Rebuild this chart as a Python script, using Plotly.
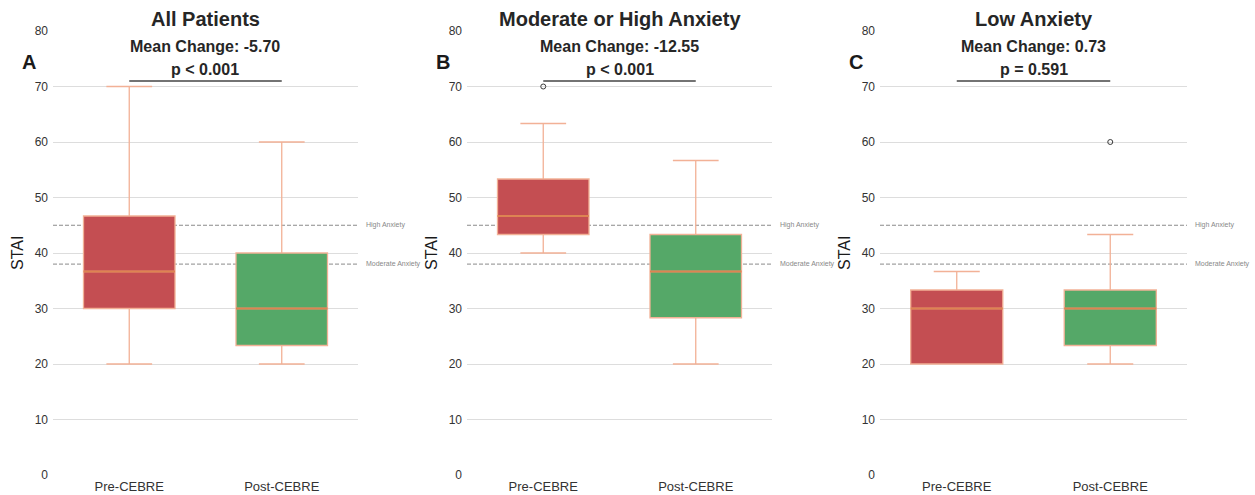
import plotly.graph_objects as go

categories = ["Pre-CEBRE", "Post-CEBRE"]
panel_titles = ["All Patients", "Moderate or High Anxiety", "Low Anxiety"]
panel_letters = ["A", "B", "C"]
mean_changes = ["-5.70", "-12.55", "0.73"]
p_texts = ["p < 0.001", "p < 0.001", "p = 0.591"]

# Box statistics per panel: [Pre, Post]
q1 = [[30.0, 23.33], [43.33, 28.33], [20.0, 23.33]]
median = [[36.67, 30.0], [46.67, 36.67], [30.0, 30.0]]
q3 = [[46.67, 40.0], [53.33, 43.33], [33.33, 33.33]]
lowerfence = [[20.0, 20.0], [40.0, 20.0], [20.0, 20.0]]
upperfence = [[70.0, 60.0], [63.33, 56.67], [36.67, 43.33]]
outliers = [[[], []], [[70.0], []], [[], [60.0]]]

high_anxiety = 45
moderate_anxiety = 38
sig_bar_y = 71
y_ticks = [0, 10, 20, 30, 40, 50, 60, 70, 80]

fill_colors = ["#C44E52", "#55A868"]
edge_color = "#F2B196"
median_color = "#DD8452"
FONT = "Liberation Sans, Arial, sans-serif"

W, H = 1255, 495
x_domains = [(53 / W, 358 / W), (467 / W, 772 / W), (880 / W, 1187 / W)]
y_domain = (1 - 475 / H, 1 - 31 / H)

fig = go.Figure()
annotations = []
shapes = []

for p in range(3):
    sfx = "" if p == 0 else str(p + 1)
    xa, ya = "x" + sfx, "y" + sfx
    for i, cat in enumerate(categories):
        fig.add_trace(go.Box(
            x=[i], q1=[q1[p][i]], median=[median[p][i]], q3=[q3[p][i]],
            lowerfence=[lowerfence[p][i]], upperfence=[upperfence[p][i]],
            width=0.6, whiskerwidth=0.5, boxpoints=False,
            fillcolor=fill_colors[i], line=dict(color=edge_color, width=1.3),
            xaxis=xa, yaxis=ya, showlegend=False, hoverinfo="skip", name=cat,
        ))
        fig.add_trace(go.Scatter(
            x=[i - 0.3, i + 0.3], y=[median[p][i], median[p][i]], mode="lines",
            line=dict(color=median_color, width=1.8), xaxis=xa, yaxis=ya,
            showlegend=False, hoverinfo="skip",
        ))
        if outliers[p][i]:
            fig.add_trace(go.Scatter(
                x=[i] * len(outliers[p][i]), y=outliers[p][i], mode="markers",
                marker=dict(symbol="circle-open", size=5, color="#3a3a3a", line=dict(width=1)),
                xaxis=xa, yaxis=ya, showlegend=False, hoverinfo="skip",
            ))
    # significance bar
    fig.add_trace(go.Scatter(
        x=[0, 1], y=[sig_bar_y, sig_bar_y], mode="lines",
        line=dict(color="#444444", width=1.5), xaxis=xa, yaxis=ya,
        showlegend=False, hoverinfo="skip",
    ))
    # threshold lines
    for val, lab in [(high_anxiety, "High Anxiety"), (moderate_anxiety, "Moderate Anxiety")]:
        shapes.append(dict(type="line", xref=xa + " domain", yref=ya, x0=0, x1=1, y0=val, y1=val,
                           line=dict(color="#8a8a8a", width=1, dash="4px,2px"), layer="below"))
        annotations.append(dict(text=lab, xref=xa + " domain", yref=ya, x=1.02, y=val,
                                xanchor="left", yanchor="middle", showarrow=False,
                                font=dict(family=FONT, size=7, color="#888888")))
    cx = (x_domains[p][0] + x_domains[p][1]) / 2
    annotations.append(dict(text="<b>" + panel_titles[p] + "</b>", xref="paper", yref="paper",
                            x=cx, y=1 - 19 / H, xanchor="center", yanchor="middle", showarrow=False,
                            font=dict(family=FONT, size=20, color="#262626")))
    annotations.append(dict(text="<b>Mean Change: " + mean_changes[p] + "</b>", xref="paper", yref="paper",
                            x=cx, y=1 - 47 / H, xanchor="center", yanchor="middle", showarrow=False,
                            font=dict(family=FONT, size=16, color="#262626")))
    annotations.append(dict(text="<b>" + p_texts[p] + "</b>", xref="paper", yref="paper",
                            x=cx, y=1 - 69 / H, xanchor="center", yanchor="middle", showarrow=False,
                            font=dict(family=FONT, size=16, color="#262626")))
    annotations.append(dict(text="<b>" + panel_letters[p] + "</b>", xref="paper", yref="paper",
                            x=x_domains[p][0] - 24 / W, y=1 - 62 / H, xanchor="center", yanchor="middle",
                            showarrow=False, font=dict(family=FONT, size=20, color="#1a1a1a")))
    annotations.append(dict(text="STAI", xref="paper", yref="paper", textangle=-90,
                            x=x_domains[p][0] - 35 / W, y=(y_domain[0] + y_domain[1]) / 2,
                            xanchor="center", yanchor="middle", showarrow=False,
                            font=dict(family=FONT, size=16, color="#1a1a1a")))

    xkey = "xaxis" + sfx
    ykey = "yaxis" + sfx
    fig.layout[xkey] = dict(domain=list(x_domains[p]), anchor=ya, range=[-0.5, 1.5],
                            tickvals=[0, 1], ticktext=categories, showgrid=False, zeroline=False,
                            showline=False, ticks="", ticklen=0, automargin=False,
                            ticklabelstandoff=2,
                            tickfont=dict(family=FONT, size=13, color="#333333"))
    fig.layout[ykey] = dict(domain=list(y_domain), anchor=xa, range=[0, 80], tickvals=y_ticks,
                            showgrid=True, gridcolor="#DDDDDD", gridwidth=1, zeroline=False,
                            showline=False, ticks="", ticklabelstandoff=4, automargin=False,
                            tickfont=dict(family=FONT, size=12, color="#333333"))

fig.update_layout(width=W, height=H, margin=dict(l=0, r=0, t=0, b=0, autoexpand=False),
                  template="none",
                  plot_bgcolor="white", paper_bgcolor="white",
                  annotations=annotations, shapes=shapes, showlegend=False)

fig.write_html("out.html", config={"displayModeBar": False},
               post_script="document.body.style.margin='0';document.body.style.overflow='hidden';")
